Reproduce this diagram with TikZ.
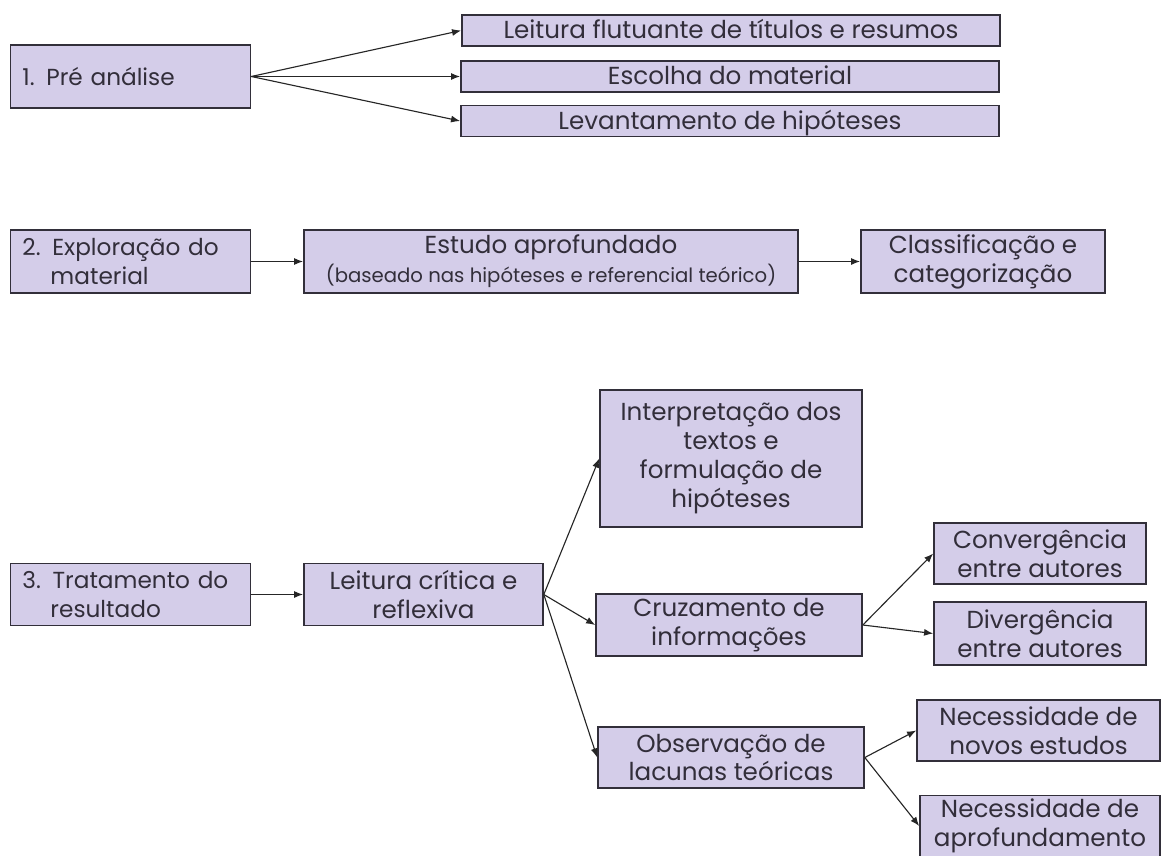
\documentclass[tikz,border=0pt]{standalone}
\usepackage{fontspec}
\setmainfont{Poppins}
\usepackage{tikz}
\usetikzlibrary{arrows.meta}

\definecolor{boxfill}{RGB}{212,205,233}
\definecolor{boxline}{RGB}{50,47,58}
\definecolor{boxtext}{RGB}{50,46,58}

\begin{document}
\begin{tikzpicture}[x=0.025cm, y=-0.025cm,
    box/.style={draw=boxline, fill=boxfill, line width=1.1pt, text=boxtext,
        font=\fontsize{17.5}{20.6}\selectfont, align=center, inner sep=2pt},
    stage/.style={box, font=\fontsize{16.5}{20.6}\selectfont, align=left,
        text width=5.4cm, inner xsep=0.3cm},
    bar/.style={box, minimum width=13.45cm, minimum height=0.775cm, inner ysep=0pt,
        text height=14pt, text depth=2pt},
    arr/.style={draw=black!85, line width=0.8pt, -{Latex[length=6.5pt,width=5pt]}}]
    \useasboundingbox (0,0) rectangle (1161,855);

    % Pre analise
    \node[stage, minimum height=1.575cm] (pre) at (130.5,76.5) {\mbox{1. Pré análise}};
    \node[bar] (leitura) at (731,30.5) {Leitura flutuante de títulos e resumos};
    \node[bar] (escolha) at (730,76.5) {Escolha do material};
    \node[bar] (levanta) at (730,121) {Levantamento de hipóteses};

    \draw[arr] (pre.east) -- (leitura.west);
    \draw[arr] (pre.east) -- (escolha.west);
    \draw[arr] (pre.east) -- (levanta.west);

    % Exploracao do material
    \node[stage, minimum height=1.575cm] (explora) at (130.5,261.5)
        {\mbox{2. Exploração do}\\\hspace*{0.7cm}material};
    \node[box, minimum width=12.35cm, minimum height=1.575cm] (estudo) at (551,261.5)
        {Estudo aprofundado\\{\fontsize{14}{16}\selectfont(baseado nas hipóteses e referencial teórico)}};
    \node[box, minimum width=6.1cm, minimum height=1.575cm] (classif) at (983,261.5)
        {Classificação e\\categorização};

    \draw[arr] (explora) -- (estudo);
    \draw[arr] (estudo) -- (classif);

    % Tratamento do resultado
    \node[stage, minimum height=1.55cm] (trata) at (130.5,594.5)
        {\mbox{3. Tratamento do}\\\hspace*{0.7cm}resultado};
    \node[box, minimum width=5.975cm, minimum height=1.55cm] (critica) at (423.5,594.5)
        {Leitura crítica e\\reflexiva};
    \node[box, minimum width=6.55cm, minimum height=3.425cm] (interp) at (731,458.5)
        {Interpretação dos\\textos e\\formulação de\\hipóteses};
    \node[box, minimum width=6.65cm, minimum height=1.55cm] (cruza) at (729,625)
        {Cruzamento de\\informações};
    \node[box, minimum width=6.65cm, minimum height=1.525cm] (lacuna) at (731,757.5)
        {Observação de\\lacunas teóricas};
    \node[box, minimum width=5.3cm, minimum height=1.525cm] (conv) at (1040,553.5)
        {Convergência\\entre autores};
    \node[box, minimum width=5.3cm, minimum height=1.575cm] (div) at (1040,633.5)
        {Divergência\\entre autores};
    \node[box, minimum width=6.075cm, minimum height=1.525cm] (novos) at (1038.5,730.5)
        {Necessidade de\\novos estudos};
    \node[box, minimum width=6cm, minimum height=1.525cm] (aprof) at (1040,826)
        {Necessidade de\\aprofundamento};

    \draw[arr] (trata) -- (critica);
    \draw[arr] (critica.east) -- (interp.west);
    \draw[arr] (critica.east) -- (cruza.west);
    \draw[arr] (critica.east) -- (lacuna.west);
    \draw[arr] (cruza.east) -- (conv.west);
    \draw[arr] (cruza.east) -- (div.west);
    \draw[arr] (lacuna.east) -- (novos.west);
    \draw[arr] (lacuna.east) -- (aprof.west);
\end{tikzpicture}
\end{document}
